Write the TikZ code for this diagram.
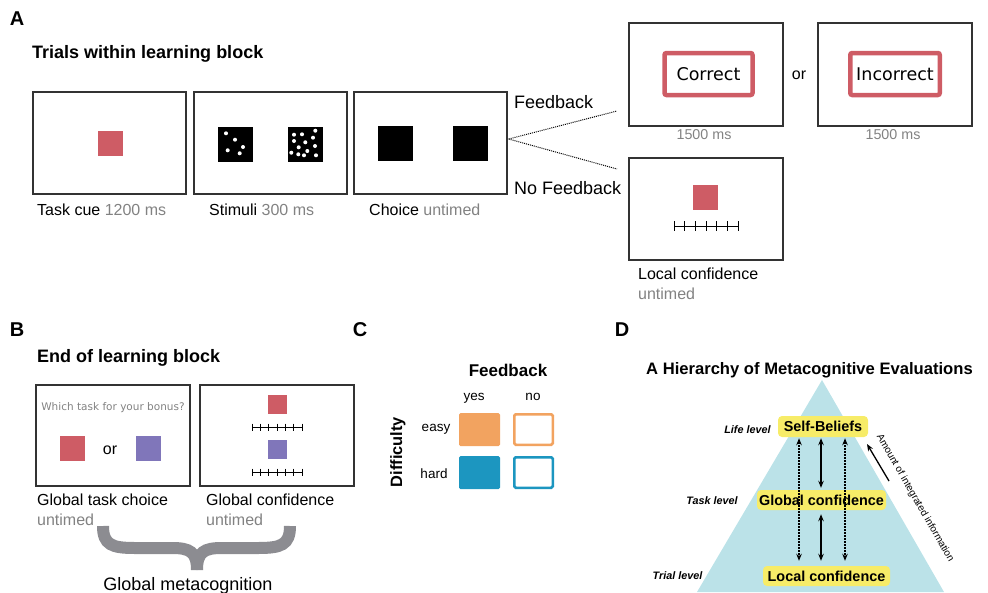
\documentclass[tikz,border=0pt]{standalone}
\usepackage{fontspec}
\setmainfont{Liberation Sans}
\newfontfamily\screenfont{DejaVu Sans}
\usepackage{tikz}
\usepackage{xcolor}
\usetikzlibrary{arrows.meta}

\definecolor{cuered}{RGB}{206,92,101}
\definecolor{cuepurple}{RGB}{128,118,186}
\definecolor{timegray}{RGB}{130,130,130}
\definecolor{easyorange}{RGB}{242,163,96}
\definecolor{hardblue}{RGB}{28,150,192}
\definecolor{pyramid}{RGB}{187,226,232}
\definecolor{tieryellow}{RGB}{247,236,104}
\definecolor{bracegray}{RGB}{140,140,145}

\newcommand{\px}[1]{\fontsize{#1}{#1}\selectfont}
% rating scale: x0, y, length, tick half height
\newcommand{\ratingscale}[4]{%
  \draw[line width=1pt] (#1,#2) -- ++(#3,0);
  \foreach \k in {0,...,6}
    \draw[line width=1pt] (#1+\k*#3/6,#2-#4) -- ++(0,2*#4);}

\begin{document}
\begin{tikzpicture}[x=1pt, y=-1pt,
  screen/.style={draw=black!80, line width=1.4pt, minimum width=153pt, minimum height=102pt, inner sep=0pt},
  cue/.style={minimum size=25pt, inner sep=0pt},
  under/.style={anchor=base west, inner sep=0pt, font=\px{16}},
  panel/.style={font=\bfseries\px{20}},
  heading/.style={anchor=base west, inner sep=0pt, font=\bfseries\px{18}},
  tierbox/.style={fill=tieryellow, rounded corners=4pt, inner sep=0pt, minimum height=20pt, font=\bfseries\px{14.4}},
  tier/.style={font=\bfseries\itshape\px{10.8}},
  biarrow/.style={line width=1.3pt, {Stealth[length=7pt,width=5.5pt]}-{Stealth[length=7pt,width=5.5pt]}}]
  \useasboundingbox (0,0) rectangle (988,592);

  % A: trials within a block
  \node[panel] (A) at (17,19) {A};
  \node[heading] (trials) at (32,58) {Trials within learning block};
  \node[screen] (cuescr) at (109.5,143) {};
  \node[screen] (stimscr) at (270.5,143) {};
  \node[screen] (choicescr) at (430.5,143) {};
  \node[cue, fill=cuered] (cuesq) at (110,143) {};
  \node[cue, minimum size=35pt, fill=black] (stimL) at (235.5,144.5) {};
  \node[cue, minimum size=35pt, fill=black] (stimR) at (305.5,144.5) {};
  \foreach \x/\y in {226/133.3, 235/139.7, 243/147, 227.7/150.3, 239.7/153.3,
      294/134.7, 302/134.3, 315.3/130.7, 294/141, 305.3/142.3, 313/137.7, 298.7/147.3,
      307.3/151, 315/146, 291.3/152.7, 298.3/154.3, 304/155.3, 316/155.3}
    \fill[white] (\x,\y) circle (2pt);
  \node[cue, minimum size=35pt, fill=black] (choiceL) at (395.5,143.5) {};
  \node[cue, minimum size=35pt, fill=black] (choiceR) at (470.5,143.5) {};
  \node[under] (cuelab) at (37,215) {Task cue \textcolor{timegray}{1200 ms}};
  \node[under] (stimlab) at (209,215) {Stimuli \textcolor{timegray}{300 ms}};
  \node[under] (choicelab) at (369,215) {Choice \textcolor{timegray}{untimed}};

  % feedback branch
  \node[under, font=\px{18}] (fb) at (514,108) {Feedback};
  \node[under, font=\px{18}] (nofb) at (514,194) {No Feedback};
  \coordinate (fbend) at (617,111);
  \coordinate (nofbend) at (617,169);
  \draw[line width=1pt, dash pattern=on 1pt off 1pt] (choicescr.east) ++(1,-4) coordinate (split) -- (fbend);
  \draw[line width=1pt, dash pattern=on 1pt off 1pt] (split) -- (nofbend);
  \node[screen, minimum width=154pt, minimum height=103pt] (corrscr) at (706,74.5) {};
  \node[screen, minimum width=154pt, minimum height=103pt] (incscr) at (895,74.5) {};
  \node[draw=cuered, line width=4.5pt, rounded corners=2pt, minimum width=88pt, minimum height=42pt,
    inner sep=0pt, font=\screenfont\px{17.5}] (corr) at (708.5,74) {Correct};
  \node[draw=cuered, line width=4.5pt, rounded corners=2pt, minimum width=89.5pt, minimum height=42pt,
    inner sep=0pt, font=\screenfont\px{17.5}] (inc) at (895,74) {Incorrect};
  \node[font=\px{16}] (or) at (799,75) {or};
  \node[anchor=base, font=\px{14.3}, text=timegray] (corrt) at (704,139) {1500 ms};
  \node[anchor=base, font=\px{14.3}, text=timegray] (inct) at (893,139) {1500 ms};
  \node[screen, minimum width=154pt] (localscr) at (706,209) {};
  \node[cue, fill=cuered] (localsq) at (705.5,197.5) {};
  \ratingscale{674}{226}{64}{5}
  \node[under] (locallab) at (638,279) {Local confidence};
  \node[under, text=timegray] (localt) at (638,299) {untimed};

  % B: end of block
  \node[panel] (B) at (17,330) {B};
  \node[heading] (endblock) at (37,362) {End of learning block};
  \node[screen, minimum width=154pt, minimum height=101pt] (taskscr) at (113,435.5) {};
  \node[screen, minimum width=154pt, minimum height=101pt] (globscr) at (277,435.5) {};
  \node[font=\screenfont\px{10.5}, text=timegray] (bonus) at (113,408) {Which task for your bonus?};
  \node[cue, fill=cuered] (taskA) at (72.5,448.5) {};
  \node[cue, fill=cuepurple] (taskB) at (148.5,448.5) {};
  \node[font=\px{16}] (orB) at (110,450) {or};
  \node[cue, minimum size=19pt, fill=cuered] (globA) at (277.5,404.5) {};
  \ratingscale{252}{427}{50}{3.5}
  \node[cue, minimum size=19pt, fill=cuepurple] (globB) at (277.5,449.5) {};
  \ratingscale{252}{472}{50}{3.5}
  \node[under] (tasklab) at (37,505) {Global task choice};
  \node[under, text=timegray] (taskt) at (37,525) {untimed};
  \node[under] (globlab) at (206,505) {Global confidence};
  \node[under, text=timegray] (globt) at (206,525) {untimed};
  % brace
  \draw[bracegray, line width=12pt] (103,526) .. controls (103,545) and (112,548) .. (135,548) -- (172,548)
    .. controls (190,548) and (197,552) .. (197,570);
  \draw[bracegray, line width=12pt] (290,526) .. controls (290,545) and (281,548) .. (258,548) -- (222,548)
    .. controls (204,548) and (197,552) .. (197,570);
  \node[anchor=base, font=\px{18}] (meta) at (188,590) {Global metacognition};

  % C: design
  \node[panel] (C) at (360,330) {C};
  \node[anchor=base, font=\bfseries\px{17}] (fbhead) at (508,376) {Feedback};
  \node[font=\px{13.5}] (yes) at (474,398) {yes};
  \node[font=\px{13.5}] (no) at (533,397) {no};
  \node[font=\px{13.5}] (easy) at (436,429) {easy};
  \node[font=\px{13.5}] (hard) at (434,474) {hard};
  \node[rotate=90, font=\bfseries\px{16.4}] (diff) at (398,452) {Difficulty};
  \node[fill=easyorange, rounded corners=1.5pt, minimum width=41pt, minimum height=33pt, inner sep=0pt] (easyyes) at (479.5,429.5) {};
  \node[draw=easyorange, line width=2.5pt, rounded corners=1.5pt, minimum width=38.5pt, minimum height=30.5pt, inner sep=0pt] (easyno) at (533.5,429.5) {};
  \node[fill=hardblue, rounded corners=1.5pt, minimum width=41pt, minimum height=33pt, inner sep=0pt] (hardyes) at (479.5,472.5) {};
  \node[draw=hardblue, line width=2.5pt, rounded corners=1.5pt, minimum width=38.5pt, minimum height=30.5pt, inner sep=0pt] (hardno) at (533.5,472.5) {};

  % D: hierarchy
  \node[panel] (D) at (622,330) {D};
  \node[anchor=base west, inner sep=0pt, font=\bfseries\px{16.6}] (hier) at (646,374) {A Hierarchy of Metacognitive Evaluations};
  \fill[pyramid] (822,380) -- (944,592) -- (697,592) -- cycle;
  \node[tierbox, minimum width=90pt, minimum height=21pt] (self) at (823,426.5) {Self-Beliefs};
  \node[tierbox, minimum width=129pt] (global) at (821.5,500) {Global confidence};
  \node[tierbox, minimum width=127pt] (local) at (826.5,576) {Local confidence};
  \node[tier] (life) at (747.5,430) {Life level};
  \node[tier] (task) at (712,501) {Task level};
  \node[tier] (trial) at (677.5,576) {Trial level};
  \draw[biarrow, dash pattern=on 2pt off 1pt, shorten <=1pt, shorten >=5pt] (self.south -| 799,0) -- (local.north -| 799,0);
  \draw[biarrow, dash pattern=on 2pt off 1pt, shorten <=1pt, shorten >=5pt] (self.south -| 845,0) -- (local.north -| 845,0);
  \draw[biarrow, shorten <=1pt, shorten >=2pt] (self.south -| 821,0) -- (global.north -| 821,0);
  \draw[biarrow, shorten <=4pt, shorten >=5pt] (global.south -| 821,0) -- (local.north -| 821,0);
  \node[rotate=-60, font=\px{10}] (amount) at (915,498) {Amount of integrated information};
  \coordinate (amtfrom) at (889,481);
  \coordinate (amtto) at (867,444);
  \draw[line width=1.3pt, -{Stealth[length=7pt,width=5.5pt]}] (amtfrom) -- (amtto);
\end{tikzpicture}
\end{document}
